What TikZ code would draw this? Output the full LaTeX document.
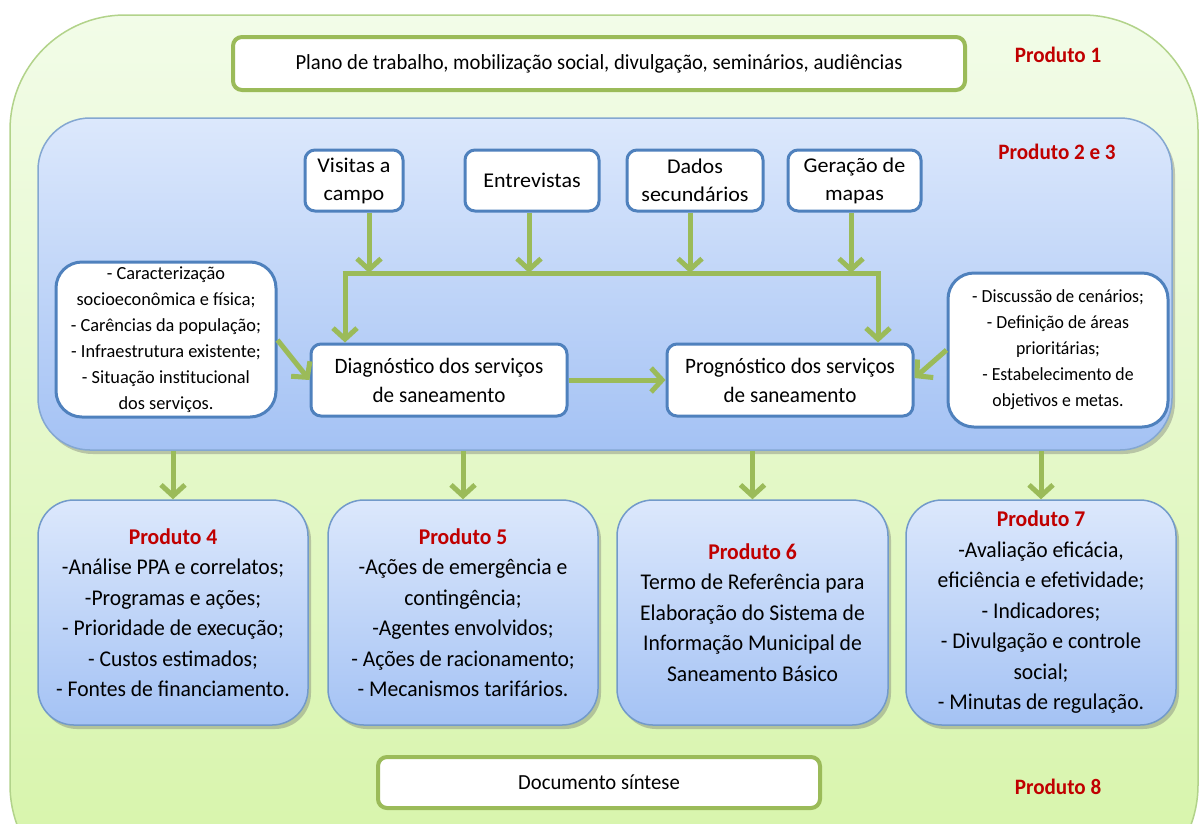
\documentclass[tikz,border=0pt]{standalone}
\usepackage{fontspec}
\setmainfont{Carlito}[FakeStretch=0.96]
\newfontfamily\leftfont{Carlito}[FakeStretch=0.99]
\newfontfamily\topfont{Carlito}[FakeStretch=1.05]
\usetikzlibrary{arrows.meta,shadows}
\definecolor{pgreen}{HTML}{9BBB59}
\definecolor{pblue}{HTML}{4F81BD}
\definecolor{pred}{HTML}{C00000}
\definecolor{bluetop}{HTML}{DCE8FC}
\definecolor{bluebot}{HTML}{A4C2F4}
\definecolor{greentop}{HTML}{F2FCE8}
\definecolor{greenbot}{HTML}{D6F4A8}
\definecolor{greenedge}{HTML}{B2D38A}
\tikzset{
  whitegreen/.style={draw=pgreen, line width=4pt, fill=white, rounded corners=9pt, inner sep=0pt},
  whiteblue/.style={draw=pblue, line width=3pt, fill=white, rounded corners=10pt, inner sep=0pt, align=center, font=\fontsize{21}{28}\selectfont},
  notebox/.style={draw=pblue, line width=3pt, fill=white, rounded corners=26pt, inner sep=0pt, align=center, font=\fontsize{18.5}{26}\selectfont},
  prodbox/.style={draw=pblue!80, line width=1.5pt, top color=bluetop, bottom color=bluebot, rounded corners=36pt, inner sep=0pt, align=center, font=\fontsize{22.5}{30.5}\selectfont, drop shadow={shadow xshift=3pt, shadow yshift=-4pt, opacity=0.35, fill=black!60}},
  prodlabel/.style={text=pred, font=\fontsize{22}{26}\selectfont\bfseries},
  garrow/.style={draw=pgreen, line width=5pt, -{Straight Barb[length=11pt,width=24pt]}},
  gline/.style={draw=pgreen, line width=5pt},
}
\begin{document}
\begin{tikzpicture}[x=1pt,y=-1pt]
\useasboundingbox (0,0) rectangle (1201,823);
\clip (0,0) rectangle (1201,823);
% outer green container
\path[draw=greenedge, line width=1.5pt, top color=greentop, bottom color=greenbot, rounded corners=115pt]
  (10,15) rectangle (1198,900);
% top box
\node[whitegreen, minimum width=732pt, minimum height=53pt, font=\fontsize{21.5}{26}\selectfont] (plano) at (599,63.5)
  {Plano de trabalho, mobilização social, divulgação, seminários, audiências};
\node[prodlabel] (p1) at (1058,55) {Produto 1};
% blue container
\node[draw=pblue!70, line width=1.5pt, top color=bluetop, bottom color=bluebot, rounded corners=52pt,
  minimum width=1134pt, minimum height=332pt, inner sep=0pt,
  drop shadow={shadow xshift=3pt, shadow yshift=-4pt, opacity=0.35, fill=black!60}] (blue) at (605,284) {};
\node[prodlabel] (p23) at (1057,152) {Produto 2 e 3};
% top inputs
\node[whiteblue, font=\fontsize{21}{28}\topfont, minimum width=98pt, minimum height=61pt] (vis) at (354,180.5) {Visitas a\\campo};
\node[whiteblue, font=\fontsize{21}{28}\topfont, minimum width=134pt, minimum height=61pt] (ent) at (532,180.5) {Entrevistas};
\node[whiteblue, font=\fontsize{21}{28}\topfont, minimum width=136pt, minimum height=61pt] (dad) at (695,180.5) {Dados\\secundários};
\node[whiteblue, font=\fontsize{21}{28}\topfont, minimum width=133pt, minimum height=61pt] (ger) at (854.5,180.5) {Geração de\\mapas};
% diagnostics
\node[whiteblue, minimum width=256pt, minimum height=72pt, font=\fontsize{22}{29}\selectfont] (diag) at (439,380) {Diagnóstico dos serviços\\de saneamento};
\node[whiteblue, minimum width=246pt, minimum height=72pt, font=\fontsize{22}{29}\selectfont] (prog) at (790,380) {Prognóstico dos serviços\\de saneamento};
\node[notebox, font=\fontsize{18.5}{26}\leftfont, minimum width=220pt, minimum height=155pt] (left) at (166,339.5)
  {- Caracterização\\socioeconômica e física;\\- Carências da população;\\- Infraestrutura existente;\\- Situação institucional\\dos serviços.};
\node[notebox, minimum width=220pt, minimum height=154pt] (right) at (1058,350)
  {- Discussão de cenários;\\- Definição de áreas\\prioritárias;\\- Estabelecimento de\\objetivos e metas.};
% bus
\coordinate (b1) at (369,273);
\coordinate (b2) at (529,273);
\coordinate (b3) at (690,273);
\coordinate (b4) at (851,273);
\coordinate (bl) at (345,273);
\coordinate (br) at (878,273);
\draw[gline] ([xshift=-2.5pt]bl) -- ([xshift=2.5pt]br);
\draw[garrow] (vis.south -| b1) -- (b1);
\draw[garrow] (ent.south -| b2) -- (b2);
\draw[garrow] (dad.south -| b3) -- (b3);
\draw[garrow] (ger.south -| b4) -- (b4);
\draw[garrow] ([yshift=-2.5pt]bl) -- (bl |- diag.north);
\draw[garrow] ([yshift=-2.5pt]br) -- (br |- prog.north);
\draw[garrow] (diag.east) -- (prog.west);
\draw[garrow] (left.east |- 0,340) -- (diag.west);
\draw[garrow] (right.west |- 0,350) -- ([yshift=2pt]prog.east);
% product boxes
\node[prodbox, minimum width=270pt, minimum height=225pt] (p4) at (173,612.5)
  {{\color{pred}\bfseries Produto 4}\\-Análise PPA e correlatos;\\-Programas e ações;\\- Prioridade de execução;\\- Custos estimados;\\- Fontes de financiamento.};
\node[prodbox, minimum width=270pt, minimum height=225pt] (p5) at (463,612.5)
  {{\color{pred}\bfseries Produto 5}\\-Ações de emergência e\\contingência;\\-Agentes envolvidos;\\- Ações de racionamento;\\- Mecanismos tarifários.};
\node[prodbox, minimum width=271pt, minimum height=225pt] (p6) at (752.5,612.5)
  {{\color{pred}\bfseries Produto 6}\\Termo de Referência para\\Elaboração do Sistema de\\Informação Municipal de\\Saneamento Básico};
\node[prodbox, minimum width=270pt, minimum height=225pt] (p7) at (1041,612.5)
  {{\color{pred}\bfseries Produto 7}\\-Avaliação eficácia,\\eficiência e efetividade;\\- Indicadores;\\- Divulgação e controle\\social;\\- Minutas de regulação.};
\draw[garrow] (blue.south -| p4.north) -- (p4.north);
\draw[garrow] (blue.south -| p5.north) -- (p5.north);
\draw[garrow] (blue.south -| p6.north) -- (p6.north);
\draw[garrow] (blue.south -| p7.north) -- (p7.north);
% bottom
\node[whitegreen, minimum width=442pt, minimum height=51pt, font=\fontsize{21.5}{26}\selectfont] (doc) at (599,782.5) {Documento síntese};
\node[prodlabel] (p8) at (1058,787) {Produto 8};
\end{tikzpicture}
\end{document}
